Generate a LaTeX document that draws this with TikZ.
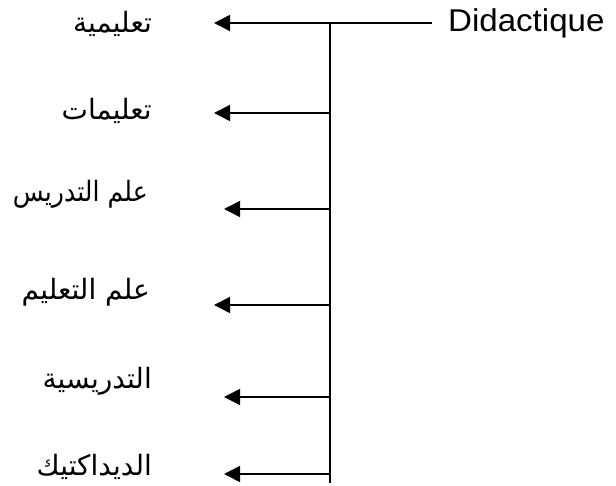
\documentclass[tikz,border=0pt]{standalone}
\usepackage{fontspec}
\setmainfont{Liberation Sans}
\newfontfamily\arabicfont[Script=Arabic]{DejaVu Sans}
\TeXXeTstate=1
\usetikzlibrary{arrows.meta}
\def\gap{16pt}
\newcommand{\widen}[1]{\scalebox{1.05}[1]{#1}}
\newcommand{\narrow}[1]{\scalebox{0.9}[1]{#1}}
\tikzset{trunk/.style={line width=1.1pt, black}}
\tikzset{branch/.style={line width=1.5pt, black, -{Triangle[length=16pt,width=16pt]}}}
\tikzset{term/.style={anchor=west, inner sep=0pt, font=\fontsize{31.5}{37}\selectfont}}
\tikzset{entry/.style={anchor=east, inner sep=0pt, font=\arabicfont\fontsize{28}{33}\selectfont}}

\begin{document}
\begin{tikzpicture}[x=1pt,y=-1pt]
\useasboundingbox (0,0) rectangle (616,486);
\node[term] (did) at (448,23) {\widen{Didactique}};
\coordinate (top) at (330,23);
\coordinate (bottom) at (330,483);
\draw[trunk, shorten <=\gap] (did.west) -- (top) -- (bottom);
\coordinate (j1) at (330,23);  \coordinate (t1) at (214,23);
\coordinate (j2) at (330,113); \coordinate (t2) at (214,113);
\coordinate (j3) at (330,209); \coordinate (t3) at (224,209);
\coordinate (j4) at (330,305); \coordinate (t4) at (214,305);
\coordinate (j5) at (330,397); \coordinate (t5) at (224,397);
\coordinate (j6) at (330,474); \coordinate (t6) at (224,474);
\draw[branch] (j1) -- (t1);
\draw[branch] (j2) -- (t2);
\draw[branch] (j3) -- (t3);
\draw[branch] (j4) -- (t4);
\draw[branch] (j5) -- (t5);
\draw[branch] (j6) -- (t6);
\node[entry] (w1) at (152,24)  {\beginR تعليمية\endR};
\node[entry] (w2) at (152,111) {\beginR تعليمات\endR};
\node[entry] (w3) at (148,194) {\narrow{\beginR علم التدريس\endR}};
\node[entry] (w4) at (150,292) {\beginR علم التعليم\endR};
\node[entry] (w5) at (152,381) {\beginR التدريسية\endR};
\node[entry] (w6) at (152,467) {\beginR الديداكتيك\endR};
\end{tikzpicture}
\end{document}
